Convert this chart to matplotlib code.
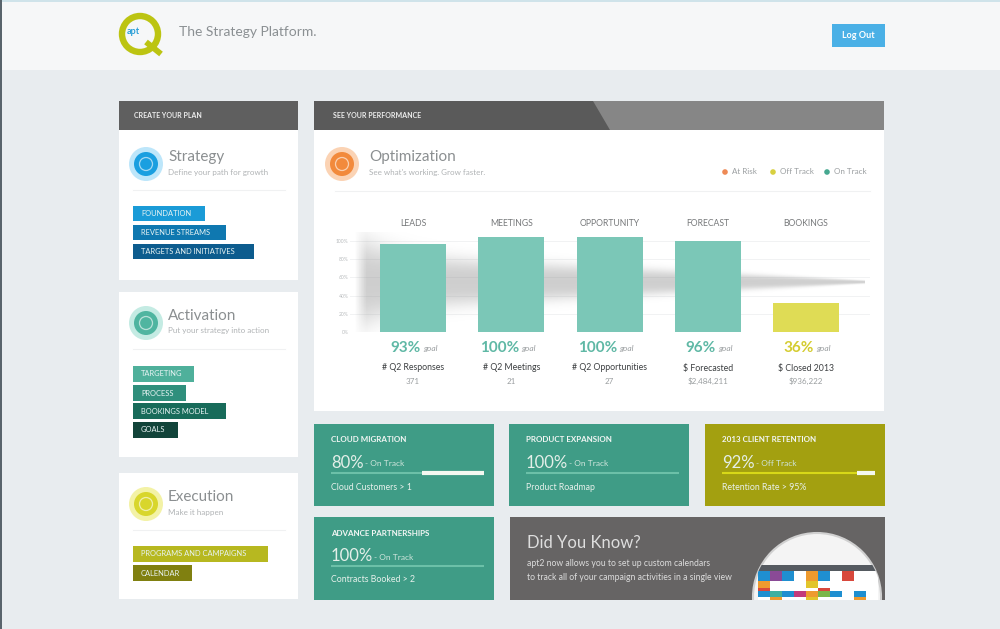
import numpy as np
import matplotlib
matplotlib.use('Agg')
import matplotlib.pyplot as plt
from matplotlib.patches import Rectangle, Circle, Polygon

plt.rcParams['font.family'] = ['Lato', 'DejaVu Sans']

# Funnel chart data
stages = ['LEADS', 'MEETINGS', 'OPPORTUNITY', 'FORECAST', 'BOOKINGS']
bar_heights = [97, 104, 104, 100, 32]
bar_status = ['on', 'on', 'on', 'on', 'off']
pct_goal = ['93%', '100%', '100%', '96%', '36%']
metric_names = ['# Q2 Responses', '# Q2 Meetings', '# Q2 Opportunities', '$ Forecasted', '$ Closed 2013']
metric_values = ['371', '21', '27', '$2,484,211', '$936,222']
y_ticks = [0, 20, 40, 60, 80, 100]
y_tick_labels = ['0%', '20%', '40%', '60%', '80%', '100%']

# Side panel menus
strategy_items = ['FOUNDATION', 'REVENUE STREAMS', 'TARGETS AND INITIATIVES']
activation_items = ['TARGETING', 'PROCESS', 'BOOKINGS MODEL', 'GOALS']
execution_items = ['PROGRAMS AND CAMPAIGNS', 'CALENDAR']

# Calendar thumbnail, one letter per cell
calendar_rows = ['kkkkkkkkkk',
                 'bpbwobwrww',
                 'owwwywwwww',
                 'rwwwwrwwww',
                 'btbmogbwbw',
                 'wowwywwwow']

GREEN = '#7bc7b7'
YELLOW = '#dfdc55'
TEAL = '#3f9c86'
OLIVE = '#a3a010'
GRAY = '#666464'
cal_colors = {'k': '#555a60', 'b': '#1f8fd0', 'p': '#8a4a96', 'w': '#ffffff', 'o': '#ee9a2e',
              'r': '#d8483c', 'y': '#e2c52c', 't': '#3fb0a0', 'm': '#c23a7a', 'g': '#7ab648'}

fig = plt.figure(figsize=(10, 6.29), dpi=100, facecolor='#e8ecef')
bg = fig.add_axes([0, 0, 1, 1])
bg.set_xlim(0, 1000)
bg.set_ylim(629, 0)
bg.axis('off')


def box(x0, y0, x1, y1, color, z=1):
    bg.add_patch(Rectangle((x0, y0), x1 - x0, y1 - y0, facecolor=color, edgecolor='none', zorder=z))


def label(x, y, s, size=6.5, color='white', weight='normal', ha='left', style='normal'):
    bg.text(x, y, s, fontsize=size, color=color, fontweight=weight, ha=ha, va='center',
            fontstyle=style, zorder=6)


def icon(x, y, halo, core):
    bg.add_patch(Circle((x, y), 17, facecolor=halo, edgecolor='none', zorder=3))
    bg.add_patch(Circle((x, y), 12, facecolor=core, edgecolor='none', zorder=4))
    bg.add_patch(Circle((x, y), 6.5, facecolor='none', edgecolor='white', alpha=0.6, lw=0.9, zorder=5))


def card(y0, y1, title, sub, halo, core, items, widths, colors, item_y, item_h, title_y):
    box(119, y0, 298, y1, 'white', 2)
    icon(146, title_y + 7, halo, core)
    label(168, title_y, title, 11, '#8b8f91')
    label(168, title_y + 15, sub, 5.8, '#b0b3b5')
    bg.plot([133, 285], [title_y + 33, title_y + 33], color='#f0f1f2', lw=0.8, zorder=3)
    for item, w, c, iy in zip(items, widths, colors, item_y):
        box(133, iy, w, iy + item_h, c, 3)
        label(141, iy + item_h / 2, item, 5.4, '#e8f4f4')


def tile(x0, y0, x1, y1, color, track, title, pct, status, foot, done=None):
    box(x0, y0, x1, y1, color, 2)
    label(x0 + 17, y0 + 16, title, 5.8, '#f2f6f4', 'bold')
    label(x0 + 17, y0 + 39, pct, 12, '#e4efe9')
    label(x0 + 17 + (34 if len(pct) == 3 else 43), y0 + 40, status, 6, '#cfe5dc')
    bg.plot([x0 + 17, x1 - 10], [y0 + 49, y0 + 49], color=track, lw=1.5, zorder=3, solid_capstyle='butt')
    if done is not None:
        bg.plot([done, x1 - 10], [y0 + 49, y0 + 49], color='#f4f8f0', lw=3, zorder=4, solid_capstyle='butt')
    label(x0 + 17, y0 + 63, foot, 6.3, '#e8f1ec')


# Top bar
box(0, 0, 1000, 70, '#f6f7f8', 0.5)
box(0, 0, 1000, 2, '#cfe3ea', 0.6)
box(0, 0, 2, 629, '#59646c', 0.7)
bg.add_patch(Circle((140, 34), 18, facecolor='none', edgecolor='#bcc412', lw=4.6, zorder=3))
bg.plot([146, 161], [42, 54], color='#bcc412', lw=4.2, zorder=3, solid_capstyle='butt')
label(127, 32, 'apt', 6.5, '#2a9fd8', 'bold')
label(179, 32, 'The Strategy Platform.', 10, '#8b9093')
box(832, 24, 885, 47, '#4ab0e6', 2)
label(858.5, 35.5, 'Log Out', 6.5, 'white', 'bold', ha='center')

# Section headers
box(119, 101, 298, 130, '#5f5f5f', 2)
label(134, 116, 'CREATE YOUR PLAN', 5, '#eeeeee', 'bold')
box(314, 101, 884, 130, '#5a5a5a', 2)
bg.add_patch(Polygon([(593, 101), (884, 101), (884, 130), (610, 130)], facecolor='#868686',
                     edgecolor='none', zorder=3))
label(333, 116, 'SEE YOUR PERFORMANCE', 5, '#eeeeee', 'bold')

# Left cards
card(130, 280, 'Strategy', 'Define your path for growth', '#bde6fa', '#1a9fe0',
     strategy_items, [205, 226, 254], ['#1a9bd7', '#0f78b0', '#0d5c8e'], [206, 225, 244], 15, 157)
card(292, 457, 'Activation', 'Put your strategy into action', '#c4ebe3', '#4fb5a0',
     activation_items, [194, 186, 226, 178], ['#4fb09b', '#2f8f7c', '#186b5a', '#12443a'],
     [366, 385, 403, 422], 16, 316)
card(473, 599, 'Execution', 'Make it happen', '#f3f2a6', '#d8d62c',
     execution_items, [268, 192], ['#b7b820', '#808010'], [546, 565], 16, 497)

# Optimization card
box(314, 130, 884, 411, 'white', 2)
icon(342, 164, '#fbd3b4', '#f28a3c')
label(369, 157, 'Optimization', 11, '#8b8f91')
label(369, 172, "See what's working. Grow faster.", 5.8, '#b0b3b5')
bg.plot([335, 870], [191, 191], color='#f0f1f2', lw=0.8, zorder=3)
for dot_x, dot_c, s in [(725, '#ee8a55', 'At Risk'), (773, '#d8d040', 'Off Track'), (827, '#46a890', 'On Track')]:
    bg.add_patch(Circle((dot_x, 172), 2.8, facecolor=dot_c, edgecolor='none', zorder=4))
    label(dot_x + 7, 172, s, 5.8, '#9a9ea0')

# Bar chart axes, pixel box x 350-870, y 232-332
ax = fig.add_axes([350 / 1000, (629 - 332) / 629, 520 / 1000, 100 / 629], zorder=3)
ax.patch.set_alpha(0)
px = 98.25
ax.set_xlim((350 - 413) / px, (870 - 413) / px)
ax.set_ylim(0, 100 / 0.91)
for s in ax.spines.values():
    s.set_visible(False)

# Grey funnel behind the bars
xx = np.linspace(-0.6, 4.6, 300)
yy = np.linspace(-5, 110, 120)
X, Y = np.meshgrid(xx, yy)
t = (X + 0.6) / 5.2
half = (27 * (1 - t) + 22 * np.exp(-t / 0.06) + 1.5) / 0.91
shade = np.exp(-np.abs((Y - 55) / half) ** 3) * 0.42 * np.clip((X + 0.6) / 0.12, 0, 1)
rgba = np.zeros(X.shape + (4,))
rgba[..., :3] = 0.55
rgba[..., 3] = shade
ax.imshow(rgba, extent=(-0.6, 4.6, -5, 110), origin='lower', aspect='auto', zorder=1)
ax.set_xlim((350 - 413) / px, (870 - 413) / px)
ax.set_ylim(0, 100 / 0.91)

ax.set_yticks(y_ticks)
ax.set_yticklabels(y_tick_labels, fontsize=3.6, color='#b8bbbd')
ax.tick_params(axis='y', length=0, pad=1)
ax.grid(axis='y', color='#f1f2f3', lw=0.7, zorder=0)
ax.set_axisbelow(True)

xpos = np.arange(len(stages))
bar_colors = [GREEN if s == 'on' else YELLOW for s in bar_status]
ax.bar(xpos, bar_heights, width=66 / px, color=bar_colors, zorder=3)
ax.set_xticks(xpos)
ax.set_xticklabels(stages, fontsize=6.2, color='#77797b')
ax.xaxis.tick_top()
ax.tick_params(axis='x', length=0, pad=3)

for i in xpos:
    c = '#5fb8a5' if bar_status[i] == 'on' else '#d4cc30'
    ax.annotate(pct_goal[i], (i, 0), xytext=(8, -16), textcoords='offset pixels', ha='right', va='center',
                fontsize=11, fontweight='bold', color=c, annotation_clip=False)
    ax.annotate('goal', (i, 0), xytext=(10, -17), textcoords='offset pixels', ha='left', va='center',
                fontsize=6, fontstyle='italic', color='#9a9ea0', annotation_clip=False)
    ax.annotate(metric_names[i], (i, 0), xytext=(0, -36), textcoords='offset pixels', ha='center', va='center',
                fontsize=6.3, color='#3c3f41', annotation_clip=False)
    ax.annotate(metric_values[i], (i, 0), xytext=(0, -49), textcoords='offset pixels', ha='center', va='center',
                fontsize=5.8, color='#9a9ea0', annotation_clip=False)

# Bottom tiles
tile(314, 424, 494, 506, TEAL, '#6cc0a8', 'CLOUD MIGRATION', '80%', '- On Track', 'Cloud Customers > 1', done=422)
tile(509, 424, 689, 506, TEAL, '#6cc0a8', 'PRODUCT EXPANSION', '100%', '- On Track', 'Product Roadmap')
tile(705, 424, 885, 506, OLIVE, '#d8d818', '2013 CLIENT RETENTION', '92%', '- Off Track', 'Retention Rate > 95%', done=857)
tile(314, 517, 494, 600, TEAL, '#6cc0a8', 'ADVANCE PARTNERSHIPS', '100%', '- On Track', 'Contracts Booked > 2')

# Did you know tile with calendar thumbnail
box(510, 517, 885, 600, GRAY, 2)
label(527, 543, 'Did You Know?', 12, '#dedede')
label(527, 564, 'apt2 now allows you to set up custom calendars', 6.2, '#dcdcdc')
label(527, 578, 'to track all of your campaign activities in a single view', 6.2, '#dcdcdc')

clip_box = Rectangle((510, 517), 375, 83, transform=bg.transData)
dome = Circle((817, 597), 64, facecolor='#f4f4f4', edgecolor='#d0d0d0', lw=1.5, zorder=3)
bg.add_patch(dome)
dome.set_clip_path(clip_box)
row_tops = [565, 571, 581, 588, 591, 597]
row_bots = [571, 581, 588, 591, 597, 600]
for row, top, bot in zip(calendar_rows, row_tops, row_bots):
    for j, key in enumerate(row):
        cell = Rectangle((758 + j * 12, top), 12, bot - top, facecolor=cal_colors[key], edgecolor='none', zorder=4)
        bg.add_patch(cell)
        cell.set_clip_path(dome)

fig.savefig('out.png', dpi=100, facecolor=fig.get_facecolor())
